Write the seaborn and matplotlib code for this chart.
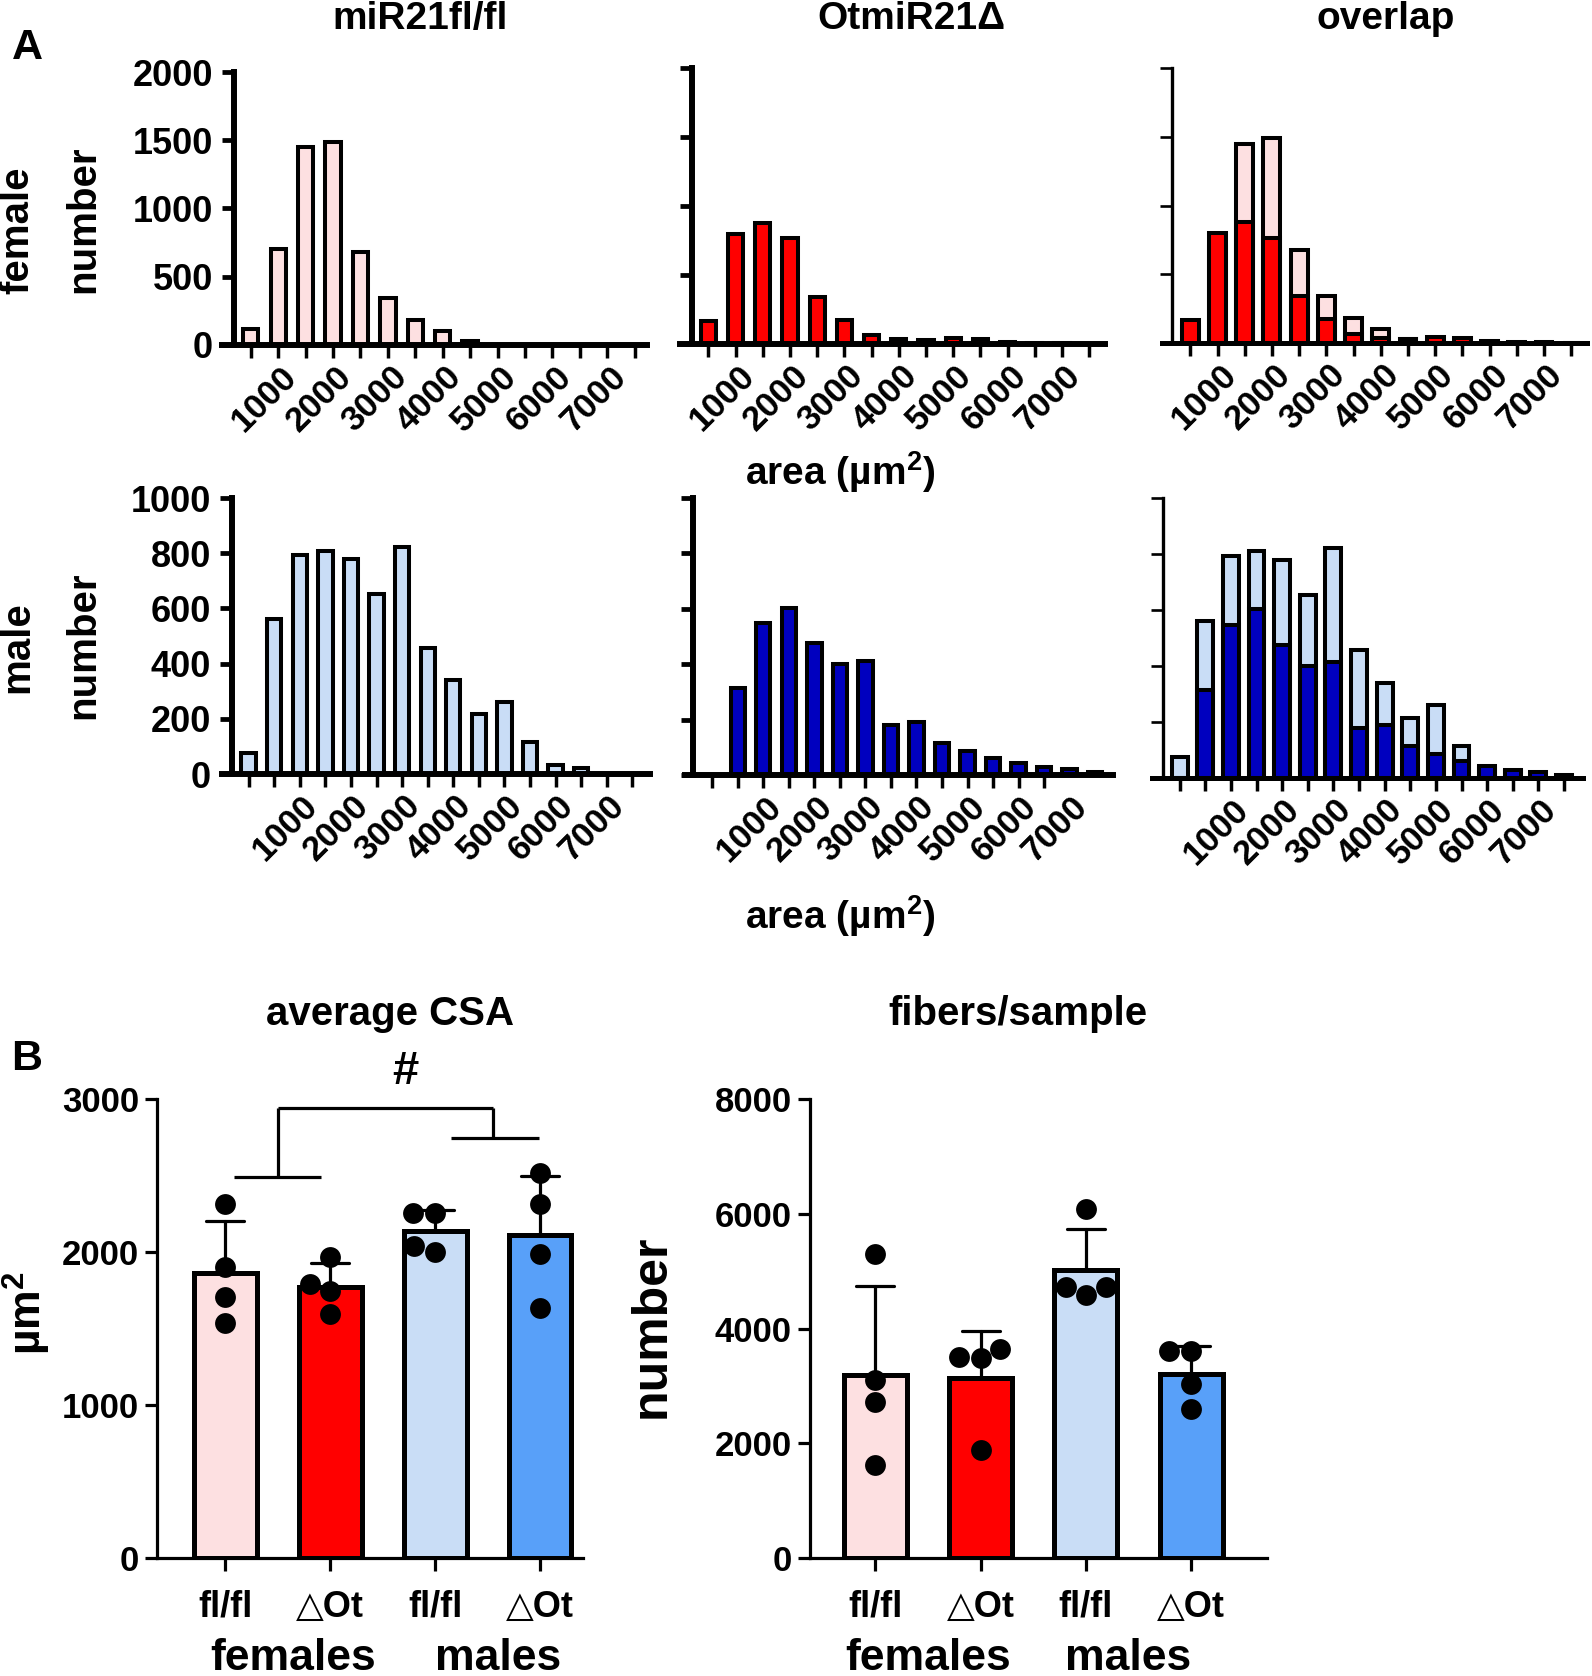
import warnings
warnings.filterwarnings("ignore")
import numpy as np
import pandas as pd
import matplotlib
matplotlib.use("Agg")
import matplotlib.pyplot as plt
import matplotlib.transforms as mtransforms
import seaborn as sns

sns.set_theme(style="ticks")
plt.rcParams['font.family'] = ['Liberation Sans', 'DejaVu Sans']
plt.rcParams['font.weight'] = 'bold'
for k in ['text.color', 'axes.labelcolor', 'xtick.color', 'ytick.color', 'axes.edgecolor']:
    plt.rcParams[k] = 'black'
plt.rcParams['mathtext.fontset'] = 'custom'
plt.rcParams['mathtext.rm'] = 'Liberation Sans:bold'
plt.rcParams['mathtext.bf'] = 'Liberation Sans:bold'
plt.rcParams['mathtext.it'] = 'Liberation Sans:bold'

# fibre counts per 500 um2 bin
female_fl = [120, 700, 1450, 1490, 680, 345, 180, 105, 30, 0, 0, 0, 0, 0, 0]
female_ko = [170, 800, 880, 765, 340, 172, 68, 35, 28, 46, 33, 16, 6, 4, 3]
male_fl = [75, 560, 793, 809, 779, 652, 823, 458, 339, 216, 260, 115, 32, 20, 0, 0]
male_ko = [0, 313, 548, 602, 475, 400, 413, 180, 191, 115, 85, 60, 42, 28, 20, 12]
area_labels = ["1000", "2000", "3000", "4000", "5000", "6000", "7000"]

# panel B, individual animals
group_keys = ["F fl", "F ko", "M fl", "M ko"]
group_labels = ["fl/fl", "\u25b3Ot", "fl/fl", "\u25b3Ot"]
sex_labels = ["females", "males"]
csa_f_fl = [2316, 1902, 1707, 1538]
csa_f_ko = [1969, 1791, 1742, 1596]
csa_m_fl = [2257, 2257, 1998, 2039]
csa_m_ko = [2514, 2316, 1984, 1634]
fib_f_fl = [5306, 3106, 2711, 1627]
fib_f_ko = [3640, 3486, 3509, 1882]
fib_m_fl = [6081, 4578, 4725, 4725]
fib_m_ko = [3602, 3602, 3029, 2603]

PINK = "#FDE0E1"
RED = "#FF0000"
LBLUE = "#C9DDF6"
DBLUE = "#0000BF"
MBLUE = "#58A0F9"

W, H = 1592, 1676
fig = plt.figure(figsize=(W / 100, H / 100), dpi=100)


def rect(l, t, r, b):
    return [l / W, 1 - b / H, (r - l) / W, (b - t) / H]


def hist_panel(box, xlim, spine_x, series, ymax, ystep, show_ylab, lab_start, nticks,
               lw_y=4.3, lw_x=4.3, width=0.56):
    ax = fig.add_axes(rect(*box))
    for vals, col in series:
        df = pd.DataFrame({"bin": np.arange(len(vals)), "n": vals})
        sns.barplot(data=df, x="bin", y="n", color=col, saturation=1, width=width,
                    edgecolor="black", linewidth=2.9, errorbar=None, ax=ax)
    ax.set_xlim(*xlim)
    ax.set_ylim(0, ymax)
    sns.despine(ax=ax)
    ax.spines['left'].set_position(('data', spine_x))
    ax.spines['left'].set_linewidth(lw_y)
    ax.spines['bottom'].set_linewidth(lw_x)
    ax.set_xticks(range(nticks))
    ax.set_xticklabels([])
    ax.set_xticks([lab_start + 2 * i for i in range(len(area_labels))], area_labels, minor=True)
    ax.tick_params(axis='x', which='major', direction='out', length=9, width=2.5)
    ax.tick_params(axis='x', which='minor', length=0, pad=19, labelsize=25)
    for t in ax.get_xticklabels(minor=True):
        t.set_rotation(45)
        t.set_ha('right')
        t.set_va('center')
        t.set_rotation_mode('anchor')
        t.set_fontweight('bold')
    yt = np.arange(0, ymax + 1, ystep)
    ax.set_yticks(yt)
    ax.tick_params(axis='y', direction='out', length=9, width=lw_y * 0.8, labelsize=26, pad=6)
    if show_ylab:
        ax.set_yticklabels([str(int(v)) for v in yt], fontweight='bold')
    else:
        ax.set_yticklabels([])
    ax.set_xlabel("")
    ax.set_ylabel("")
    ax.patch.set_alpha(0)
    return ax


# row 1: females
hist_panel((222, 72, 647, 345), (-1.05, 14.45), -0.62, [(female_fl, PINK)], 2000, 500, True, 1.5, 15)
hist_panel((680, 68, 1105, 344), (-1.04, 14.58), -0.61, [(female_ko, RED)], 2000, 500, False, 1.5, 15)
hist_panel((1162, 68, 1587, 343), (-1.04, 14.58), -0.67, [(female_fl, PINK), (female_ko, RED)],
           2000, 500, False, 1.5, 15, lw_y=2.4, lw_x=3.6, width=0.62)
# row 2: males
hist_panel((222, 498, 650, 774), (-1.04, 15.69), -0.65, [(male_fl, LBLUE)], 1000, 200, True, 2.5, 16)
hist_panel((685, 498, 1113, 775), (-1.07, 15.7), -0.74, [(male_ko, DBLUE)], 1000, 200, False, 2.5, 14)
hist_panel((1152, 498, 1583, 778), (-1.08, 15.74), -0.65, [(male_fl, LBLUE), (male_ko, DBLUE)],
           1000, 200, False, 2.5, 16, lw_y=2.4, lw_x=3.6, width=0.62)


def ftext(x, y, s, **kw):
    fig.text(x / W, 1 - y / H, s, ha='center', va='center', fontweight='bold', **kw)


ftext(27, 48, "A", fontsize=31)
ftext(27, 1059, "B", fontsize=31)
ftext(420, 19, "miR21fl/fl", fontsize=28)
ftext(911, 19, "OtmiR21\u0394", fontsize=28)
ftext(1386, 19, "overlap", fontsize=28)
ftext(840, 472, "area (\u00b5m$^{2}$)", fontsize=28)
ftext(840, 916, "area (\u00b5m$^{2}$)", fontsize=28)
ftext(17, 230, "female", fontsize=29, rotation=90)
ftext(83, 219, "number", fontsize=29, rotation=90)
ftext(17, 647, "male", fontsize=29, rotation=90)
ftext(83, 645, "number", fontsize=29, rotation=90)
ftext(390, 1014, "average CSA", fontsize=29)
ftext(1018, 1014, "fibers/sample", fontsize=29)
ftext(27, 1313, "\u00b5m$^{2}$", fontsize=32, rotation=90)
ftext(652, 1326, "number", fontsize=36, rotation=90)


def bar_panel(box, xlim, values, ymax, ystep, sex_x):
    ax = fig.add_axes(rect(*box))
    df = pd.DataFrame({"key": np.repeat(group_keys, 4), "val": np.concatenate(values)})
    sns.barplot(data=df, x="key", y="val", order=group_keys, hue="key", hue_order=group_keys,
                palette=[PINK, RED, LBLUE, MBLUE], legend=False, saturation=1, width=0.6,
                edgecolor="black", linewidth=3.6, errorbar="sd", capsize=0.36,
                err_kws={"color": "black", "linewidth": 2.3}, ax=ax)
    for p in ax.patches:
        p.set_zorder(2)
    for ln in ax.lines:
        ln.set_zorder(1.5)
    sns.swarmplot(data=df, x="key", y="val", order=group_keys, color="black", size=15,
                  ax=ax, zorder=3)
    ax.set_xlim(*xlim)
    ax.set_ylim(0, ymax)
    sns.despine(ax=ax)
    for s in ['left', 'bottom']:
        ax.spines[s].set_linewidth(2.3)
    ax.set_xticks(range(4))
    ax.set_xticklabels(group_labels, fontweight='bold')
    ax.tick_params(axis='x', direction='out', length=9, width=2.3, labelsize=26, pad=14)
    yt = np.arange(0, ymax + 1, ystep)
    ax.set_yticks(yt)
    ax.set_yticklabels([str(int(v)) for v in yt], fontweight='bold')
    ax.tick_params(axis='y', direction='out', length=9, width=2.3, labelsize=25, pad=4)
    ax.set_xlabel("")
    ax.set_ylabel("")
    ax.patch.set_alpha(0)
    tr = mtransforms.blended_transform_factory(ax.transData, fig.transFigure)
    for xs, lab in zip(sex_x, sex_labels):
        ax.text(xs, 1 - 1658 / H, lab, transform=tr, ha='center', va='center',
                fontsize=32, fontweight='bold')
    return ax


ax_csa = bar_panel((157, 1099, 583, 1558), (-0.65, 3.41), [csa_f_fl, csa_f_ko, csa_m_fl, csa_m_ko],
                   3000, 1000, [0.65, 2.6])
# significance bracket
kw = dict(color="black", lw=2.3, clip_on=False, solid_capstyle='butt')
ax_csa.plot([0.08, 0.91], [2490, 2490], **kw)
ax_csa.plot([0.5, 0.5], [2490, 2944], **kw)
ax_csa.plot([0.5, 2.55], [2944, 2944], **kw)
ax_csa.plot([2.55, 2.55], [2944, 2748], **kw)
ax_csa.plot([2.15, 2.99], [2748, 2748], **kw)
ax_csa.text(1.72, 3175, "#", ha='center', va='center', fontsize=34, fontweight='bold')

bar_panel((810, 1099, 1267, 1558), (-0.62, 3.72), [fib_f_fl, fib_f_ko, fib_m_fl, fib_m_ko],
          8000, 2000, [0.5, 2.4])

fig.savefig("out.png", dpi=100)
